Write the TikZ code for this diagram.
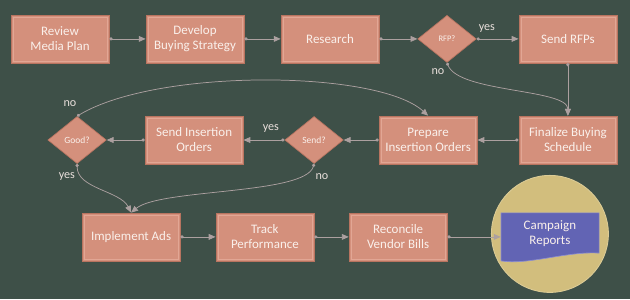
\documentclass[tikz,border=0pt]{standalone}
\usepackage{fontspec}
\setmainfont{Carlito}
\usetikzlibrary{calc, arrows.meta, shapes.geometric}

\definecolor{fondo}{RGB}{62,80,72}
\definecolor{salmon}{RGB}{212,144,124}
\definecolor{salmonborde}{RGB}{184,116,96}
\definecolor{salmonclaro}{RGB}{226,166,148}
\definecolor{flecha}{RGB}{172,160,160}
\definecolor{texto}{RGB}{250,240,235}
\definecolor{circulo}{RGB}{210,190,125}
\definecolor{circuloborde}{RGB}{220,204,150}
\definecolor{informe}{RGB}{98,100,180}
\definecolor{informeborde}{RGB}{140,142,210}

\begin{document}
\begin{tikzpicture}[
    paso/.style={rectangle, fill=salmon, draw=salmonborde, line width=0.6pt,
        minimum width=3.27cm, minimum height=1.6cm, inner sep=2pt,
        text=texto, align=center, font=\fontsize{12.3}{14.2}\selectfont,
        path picture={\draw[salmonclaro, line width=0.5pt]
            ($(path picture bounding box.south west)+(2pt,2pt)$) rectangle
            ($(path picture bounding box.north east)-(2pt,2pt)$);}},
    decision/.style={diamond, fill=salmon, draw=salmonborde, line width=0.6pt,
        minimum width=1.95cm, minimum height=1.57cm, inner sep=0pt,
        text=texto, font=\fontsize{9}{10}\selectfont},
    flujo/.style={draw=flecha, line width=0.7pt,
        {Circle[length=3pt]}-{Triangle[length=6.5pt, width=5.5pt]}},
    etiqueta/.style={text=texto!85!gray, font=\fontsize{11.5}{13}\selectfont}
]

    % --- Parámetros de las filas ---
    \def\filaA{8.67}    % fila superior
    \def\filaB{5.3}     % fila central
    \def\filaC{2.07}    % fila inferior

    % Fondo y márgenes
    \fill[fondo] (0,0) rectangle (21,9.967);
    \useasboundingbox (0,0) rectangle (21,9.967);

    % =========================================================================
    % FILA SUPERIOR
    % =========================================================================
    \node[paso] (revisar) at (2.0, \filaA) {Review\\Media Plan};
    \node[paso] (desarrollar) at (6.5, \filaA) {Develop\\Buying Strategy};
    \node[paso] (investigar) at (11.0, \filaA) {Research};
    \node[decision, font=\fontsize{8}{9}\selectfont] (rfp) at (14.9, \filaA) {RFP?};
    \node[paso] (enviarrfp) at (18.93, \filaA) {Send RFPs};

    % =========================================================================
    % FILA CENTRAL
    % =========================================================================
    \node[paso] (finalizar) at (18.93, \filaB) {Finalize Buying\\Schedule};
    \node[paso] (preparar) at (14.27, \filaB) {Prepare\\Insertion Orders};
    \node[decision] (enviar) at (10.47, \filaB) {Send?};
    \node[paso] (enviarord) at (6.47, \filaB) {Send Insertion\\Orders};
    \node[decision] (bueno) at (2.57, \filaB) {Good?};

    % =========================================================================
    % FILA INFERIOR
    % =========================================================================
    \node[paso] (implementar) at (4.37, \filaC) {Implement Ads};
    \node[paso] (seguir) at (8.83, \filaC) {Track\\Performance};
    \node[paso] (conciliar) at (13.27, \filaC) {Reconcile\\Vendor Bills};

    % Círculo y documento de informes
    \node[circle, fill=circulo, draw=circuloborde, line width=0.8pt,
        minimum size=3.9cm] (circ) at (18.33, 2.17) {};
    \draw[fill=informe, draw=informeborde, line width=0.6pt]
        (16.7, 2.87) -- (19.97, 2.87) -- (19.97, 1.53)
        .. controls (18.9, 1.6) and (17.6, 1.12) .. (16.7, 1.27) -- cycle;
    \node[minimum width=3.27cm, minimum height=1.3cm, text=texto, align=center,
        font=\fontsize{12.3}{14.2}\selectfont] (informe) at (18.33, 2.18) {Campaign\\Reports};

    % =========================================================================
    % CONECTORES
    % =========================================================================
    \draw[flujo] (revisar) -- (desarrollar);
    \draw[flujo] (desarrollar) -- (investigar);
    \draw[flujo] (investigar) -- (rfp);
    \draw[flujo] (rfp) -- (enviarrfp);
    \draw[flujo] (enviarrfp) -- (finalizar);
    \draw[flujo] (rfp.south) .. controls +(0.4,-1.0) and +(0,0.9) .. (finalizar.north);
    \draw[flujo] (finalizar) -- (preparar);
    \draw[flujo] (preparar) -- (enviar);
    \draw[flujo] (enviar) -- (enviarord);
    \draw[flujo] (enviarord) -- (bueno);
    \draw[flujo] (bueno.north) .. controls +(2.67,1.6) and +(-1.67,1.53) .. (preparar.north);
    \draw[flujo] (bueno.south) .. controls +(0,-0.83) and +(-0.37,0.73) .. (implementar.north);
    \draw[flujo] (enviar.south) .. controls +(-0.3,-1.03) and +(0.97,0.8) .. (implementar.north);
    \draw[flujo] (implementar) -- (seguir);
    \draw[flujo] (seguir) -- (conciliar);
    \draw[flujo] (conciliar.east) -- (conciliar.east -| informe.west);

    % Etiquetas sí / no
    \node[etiqueta] (siA) at (16.23, 9.0) {yes};
    \node[etiqueta] (noA) at (14.6, 7.57) {no};
    \node[etiqueta] (noB) at (2.33, 6.5) {no};
    \node[etiqueta] (siB) at (9.03, 5.67) {yes};
    \node[etiqueta] (siC) at (2.23, 4.07) {yes};
    \node[etiqueta] (noC) at (10.73, 4.07) {no};

\end{tikzpicture}
\end{document}
